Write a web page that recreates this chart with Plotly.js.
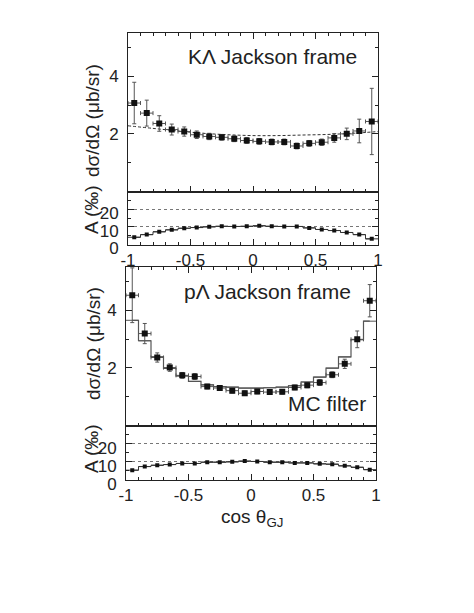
<!DOCTYPE html>
<html>
<head>
<meta charset="utf-8">
<script src="https://cdn.plot.ly/plotly-3.0.1.min.js"></script>
<style>
  html, body { margin: 0; padding: 0; background: #fff; }
  #plot { width: 474px; height: 613px; }
</style>
</head>
<body>
<div id="plot"></div>
<script>
// bin centres of cos theta_GJ (20 bins of 0.1)
const binCenters = [-0.95, -0.85, -0.75, -0.65, -0.55, -0.45, -0.35, -0.25, -0.15, -0.05,
                    0.05, 0.15, 0.25, 0.35, 0.45, 0.55, 0.65, 0.75, 0.85, 0.95];
const binHalfWidth = 0.05;

// K Lambda, Jackson frame
const kaXsec = [3.07, 2.72, 2.36, 2.15, 2.08, 1.97, 1.91, 1.88, 1.83, 1.77,
                1.74, 1.72, 1.72, 1.58, 1.67, 1.71, 1.86, 2.00, 2.10, 2.43];
const kaErr  = [0.72, 0.45, 0.27, 0.19, 0.16, 0.13, 0.11, 0.10, 0.10, 0.10,
                0.10, 0.10, 0.10, 0.10, 0.10, 0.11, 0.15, 0.20, 0.41, 1.15];
const kaFitX = [-1, -0.8, -0.6, -0.4, -0.2, 0, 0.2, 0.4, 0.6, 0.8, 1];
const kaFitY = [2.28, 2.19, 2.10, 2.02, 1.97, 1.94, 1.94, 1.96, 1.98, 2.02, 2.08];
const kaAcc  = [4.1, 5.6, 7.2, 8.3, 9.2, 9.6, 10.0, 10.3, 10.2, 10.3,
                10.6, 10.3, 10.2, 10.2, 9.4, 8.5, 7.9, 6.8, 5.6, 3.2];

// p Lambda, Jackson frame
const plXsec = [4.52, 3.19, 2.36, 2.01, 1.74, 1.70, 1.35, 1.30, 1.21, 1.12,
                1.18, 1.16, 1.17, 1.32, 1.40, 1.49, 1.76, 2.14, 2.99, 4.33];
const plErr  = [0.95, 0.35, 0.16, 0.13, 0.10, 0.10, 0.08, 0.08, 0.08, 0.08,
                0.08, 0.08, 0.08, 0.08, 0.09, 0.10, 0.10, 0.16, 0.29, 0.56];
const plMC   = [3.65, 2.94, 2.38, 1.98, 1.72, 1.53, 1.41, 1.35, 1.33, 1.30,
                1.30, 1.31, 1.33, 1.38, 1.51, 1.68, 1.99, 2.38, 2.98, 3.62];
const plAcc  = [5.4, 7.4, 8.1, 8.5, 9.1, 9.1, 9.8, 9.8, 10.0, 10.4,
                10.2, 9.8, 9.8, 9.4, 9.4, 8.9, 8.7, 7.8, 7.0, 5.7];

const xTickVals = [-1, -0.5, 0, 0.5, 1];
const xTickText = ['-1', '-0.5', '0', '0.5', '1'];
const xsecTickVals = [2, 4];
const accTickVals = [0, 10, 20];

const W = 474, H = 613;
const INK = '#222';
const px = (a, b) => [a / W, b / W];
const py = (top, bottom) => [1 - bottom / H, 1 - top / H];

function xAxis(anchor, domain, labels, mirror) {
    return {
        anchor, domain, range: [-1, 1],
        showline: true, linecolor: INK, linewidth: 1, mirror,
        ticks: 'inside', ticklen: 6, tickcolor: INK,
        tickvals: xTickVals, ticktext: xTickText,
        showticklabels: labels, tickfont: { size: 17, color: INK },
        minor: { ticks: 'inside', ticklen: 3, tick0: -1, dtick: 0.1, tickcolor: INK },
        showgrid: false, zeroline: false
    };
}

function yAxis(anchor, domain, range, tickvals, minorStep, grid) {
    return {
        anchor, domain, range,
        showline: true, linecolor: INK, linewidth: 1, mirror: 'allticks',
        ticks: 'inside', ticklen: 6, tickcolor: INK,
        tickvals, tickfont: { size: 17, color: INK }, ticklabelstandoff: 5,
        // acceptance labels sit a little below their ticks in the original
        ticklabelshift: grid ? 4 : 0,
        minor: { ticks: 'inside', ticklen: 3, tick0: 0, dtick: minorStep, tickcolor: INK },
        showgrid: grid, gridcolor: '#777', griddash: 'dot', gridwidth: 1,
        zeroline: false
    };
}

const errBar = (arr) => ({ type: 'data', array: arr, visible: true, color: '#555', thickness: 1, width: 2 });
const binBar = (width, color) => ({ type: 'constant', value: binHalfWidth, visible: true, color, thickness: 1, width });

const traces = [
    {   // K Lambda fit (dashed)
        x: kaFitX, y: kaFitY, xaxis: 'x', yaxis: 'y', type: 'scatter', mode: 'lines',
        line: { color: '#333', width: 1, dash: '3px,2px', shape: 'spline' }
    },
    {
        x: binCenters, y: kaXsec, xaxis: 'x', yaxis: 'y', type: 'scatter', mode: 'markers',
        marker: { symbol: 'square', size: 6, color: '#111' },
        error_y: errBar(kaErr), error_x: binBar(2, '#555')
    },
    {
        x: binCenters, y: kaAcc, xaxis: 'x2', yaxis: 'y2', type: 'scatter', mode: 'lines+markers',
        line: { color: '#333', width: 1, shape: 'hvh' },
        marker: { symbol: 'square', size: 4, color: '#111' },
        error_x: binBar(0, '#333')
    },
    {   // MC filter histogram
        x: binCenters, y: plMC, xaxis: 'x3', yaxis: 'y3', type: 'scatter', mode: 'lines',
        line: { color: '#555', width: 1.2, shape: 'hvh' },
        error_x: binBar(0, '#555')
    },
    {
        x: binCenters, y: plXsec, xaxis: 'x3', yaxis: 'y3', type: 'scatter', mode: 'markers',
        marker: { symbol: 'square', size: 6, color: '#111' },
        error_y: errBar(plErr), error_x: binBar(2, '#555')
    },
    {
        x: binCenters, y: plAcc, xaxis: 'x4', yaxis: 'y4', type: 'scatter', mode: 'lines+markers',
        line: { color: '#333', width: 1, shape: 'hvh' },
        marker: { symbol: 'square', size: 4, color: '#111' },
        error_x: binBar(0, '#333')
    }
];

const topX = px(128, 378), botX = px(126, 376);

const note = (text, x, y, opts) => Object.assign({
    text, x: x / W, y: 1 - y / H, xref: 'paper', yref: 'paper',
    xanchor: 'center', yanchor: 'middle',
    showarrow: false, font: { size: 19, color: INK }
}, opts);
const big = { size: 21, color: INK };

const layout = {
    width: W, height: H,
    margin: { l: 0, r: 0, t: 0, b: 0 },
    paper_bgcolor: '#fff', plot_bgcolor: '#fff',
    showlegend: false,
    font: { family: 'Liberation Sans, Arial, sans-serif', color: INK },
    xaxis: xAxis('y', topX, false, 'allticks'),
    xaxis2: xAxis('y2', topX, true, true),
    xaxis3: xAxis('y3', botX, false, 'allticks'),
    xaxis4: xAxis('y4', botX, true, true),
    yaxis: yAxis('x', py(33, 191.5), [0, 5.5], xsecTickVals, 1, false),
    yaxis2: yAxis('x2', py(191.5, 244.5), [0, 30], accTickVals, 5, true),
    yaxis3: yAxis('x3', py(267, 425.5), [0, 5.5], xsecTickVals, 1, false),
    yaxis4: yAxis('x4', py(425.5, 480), [0, 30], accTickVals, 5, true),
    annotations: [
        note('KΛ Jackson frame', 359, 57, { xanchor: 'right', font: big }),
        note('pΛ Jackson frame', 353, 292, { xanchor: 'right', font: big }),
        note('MC filter', 368, 403, { xanchor: 'right', font: big }),
        note('dσ/dΩ (μb/sr)', 93, 121, { textangle: -90 }),
        note('A (‰)', 91, 210, { textangle: -90 }),
        note('dσ/dΩ (μb/sr)', 93, 344, { textangle: -90 }),
        note('A (‰)', 91, 449, { textangle: -90 }),
        note('cos θ<sub>GJ</sub>', 252, 518, {})
    ]
};

Plotly.newPlot('plot', traces, layout, { displayModeBar: false, staticPlot: true });
</script>
</body>
</html>
